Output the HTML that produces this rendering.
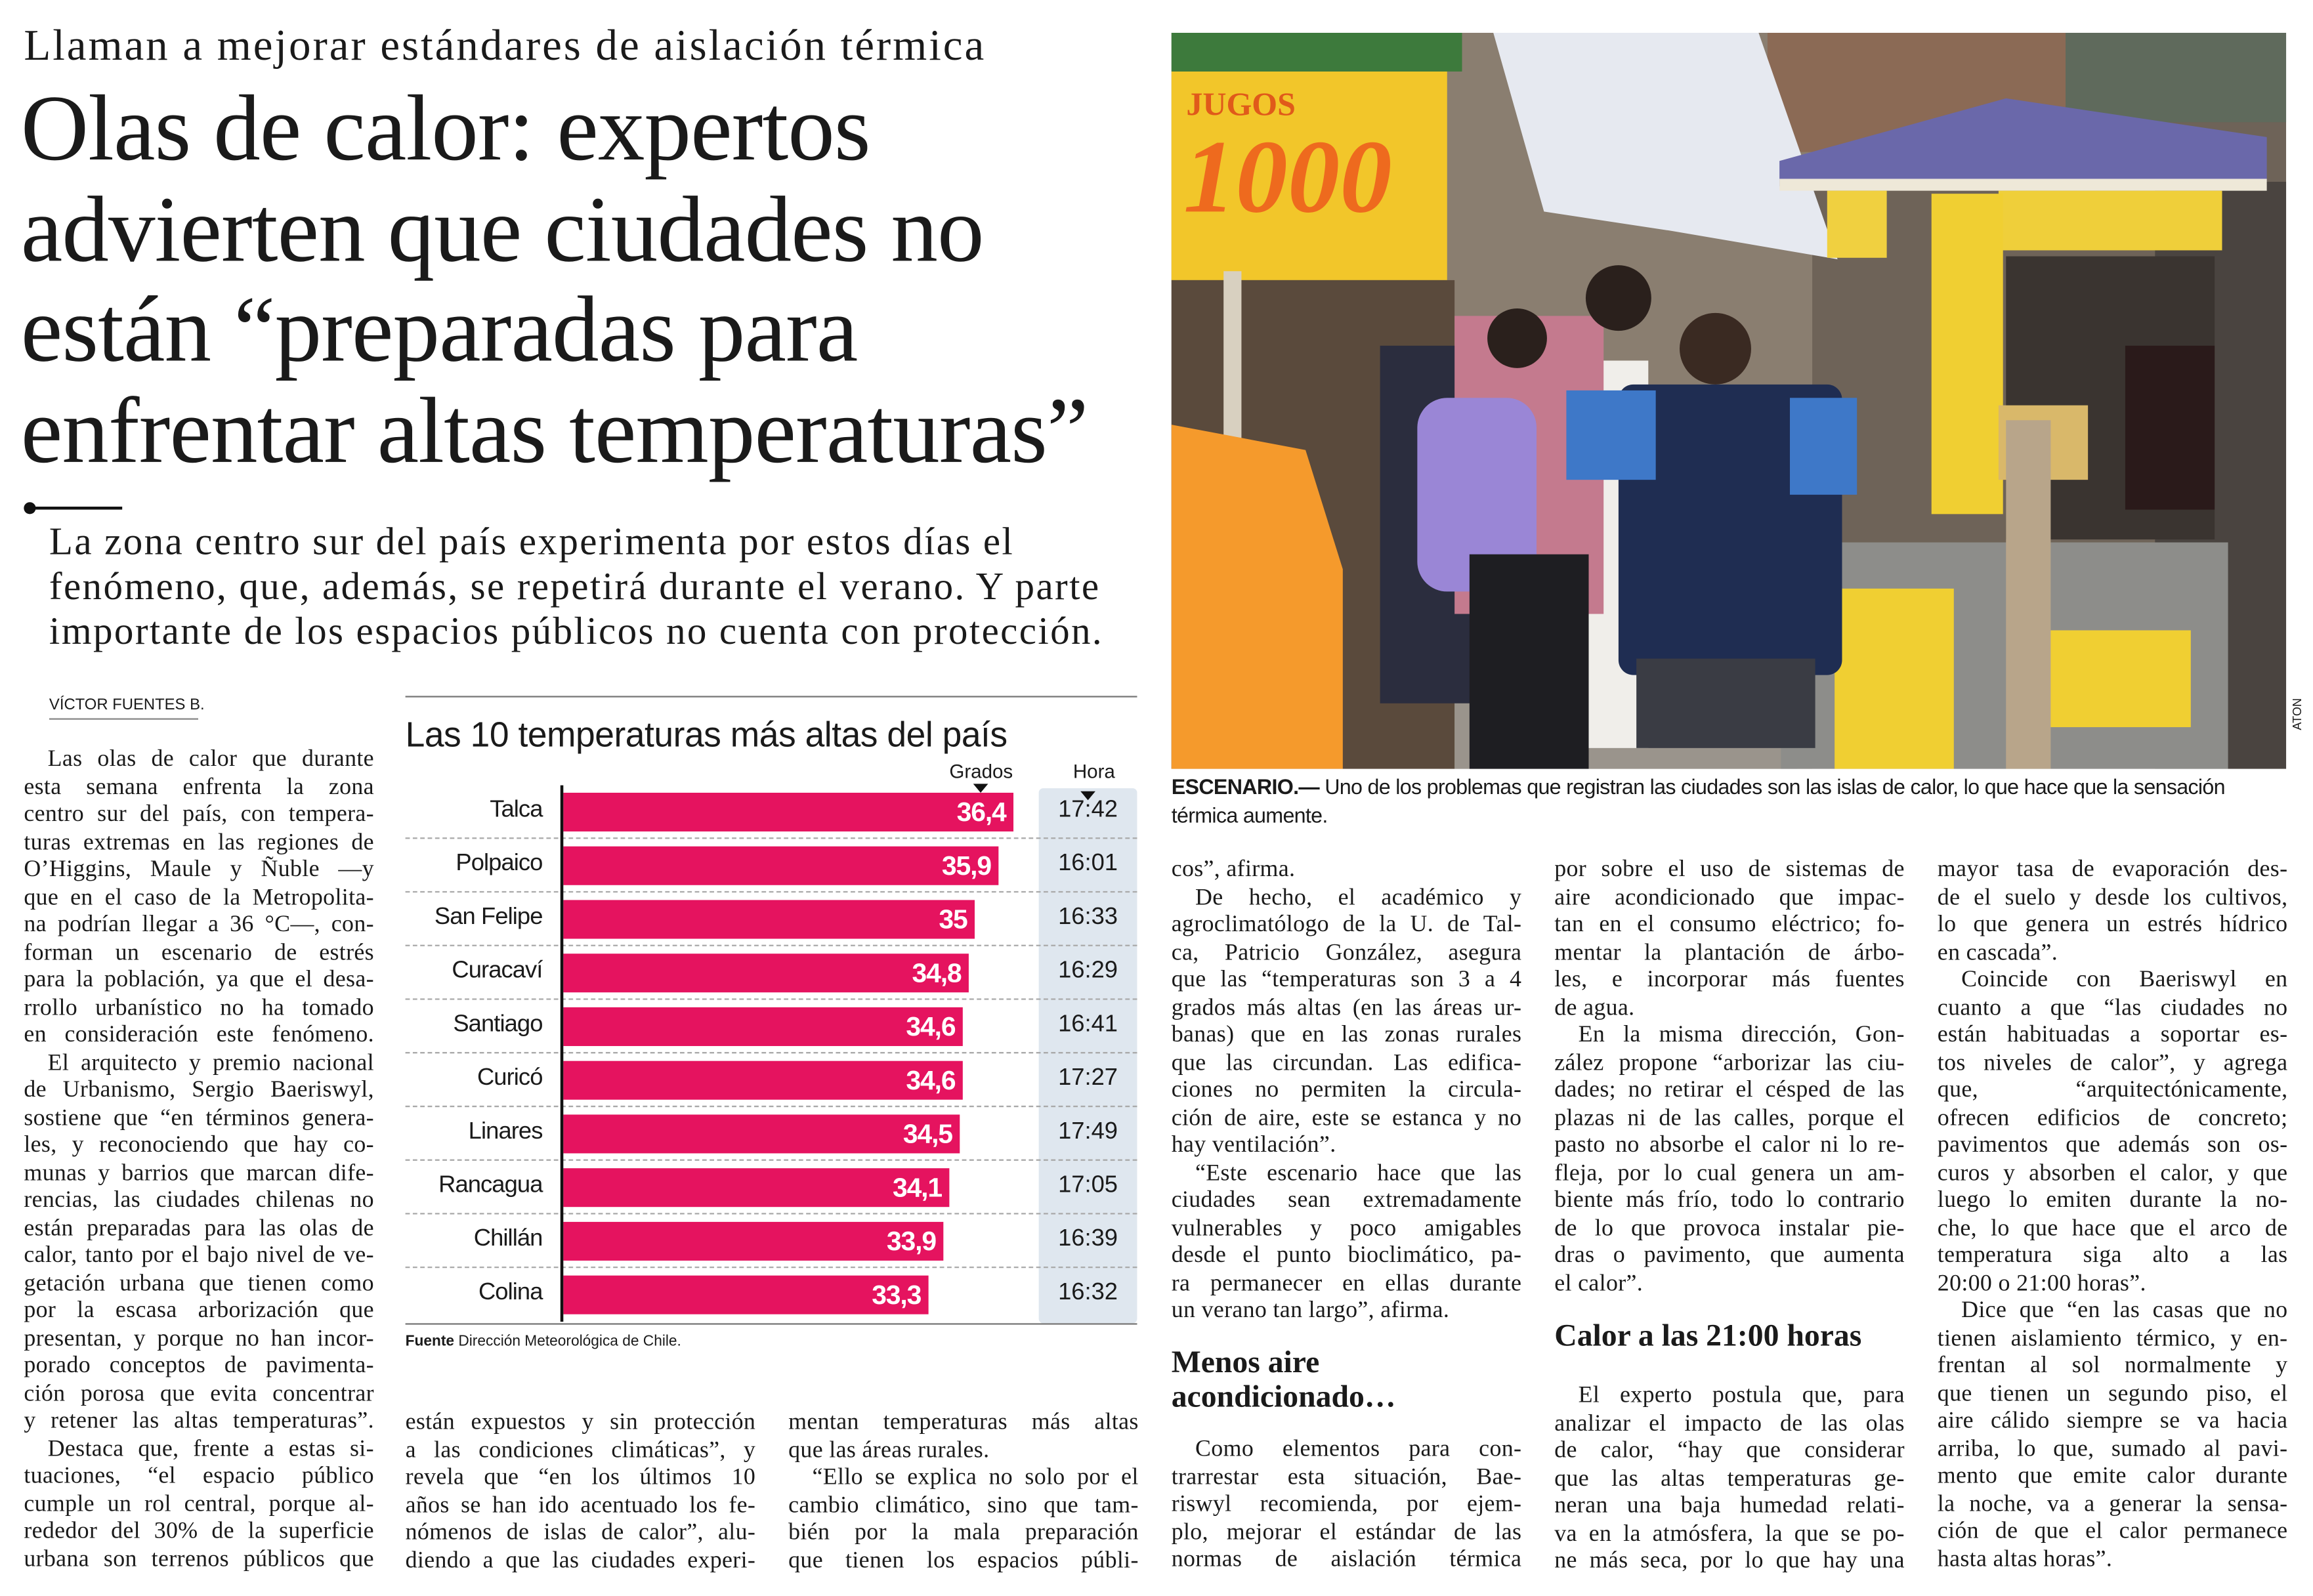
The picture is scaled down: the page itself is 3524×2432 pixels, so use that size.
<!DOCTYPE html>
<html><head><meta charset="utf-8">
<style>
html,body{margin:0;padding:0;background:#fff;}
body{width:3524px;height:2432px;overflow:hidden;position:relative;}
#p{position:absolute;left:0;top:0;width:1552px;height:1071px;transform:scale(2.27062);transform-origin:0 0;background:#fff;color:#1a1a1a;}
.a{position:absolute;}
.ser{font-family:"Liberation Serif",serif;}
.col{position:absolute;width:235px;font-family:"Liberation Serif",serif;font-size:15.8px;line-height:18.5px;letter-spacing:0.15px;}
.col div{height:18.5px;white-space:nowrap;text-align:justify;text-align-last:justify;}
.col div.e{text-align-last:left;}
.col div.i{padding-left:16px;}
.row{position:absolute;left:272px;width:491px;height:36px;font-family:"Liberation Sans",sans-serif;}
.row .n{position:absolute;left:0;width:92px;text-align:right;top:8px;font-size:16px;letter-spacing:-0.4px;}
.row .b{position:absolute;left:106px;top:5px;height:26px;background:#e5135f;color:#fff;font-weight:bold;font-size:18px;text-align:right;box-sizing:border-box;padding-right:5px;line-height:26px;letter-spacing:-0.5px;}
.row .t{position:absolute;left:425px;width:66px;text-align:center;top:8px;font-size:16px;}
.row .d{position:absolute;left:0;right:0;bottom:0;border-bottom:1px dashed #aaa;}
</style></head><body><div id="p">

<div class="a ser" style="left:16px;top:15px;font-size:29.5px;letter-spacing:1.3px;white-space:nowrap;">Llaman a mejorar estándares de aislación térmica</div>
<div class="a ser" style="left:14px;top:53px;font-size:63px;line-height:67.5px;letter-spacing:-0.4px;white-space:nowrap;">Olas de calor: expertos<br>advierten que ciudades no<br>están “preparadas para<br>enfrentar altas temperaturas”</div>
<div class="a" style="left:16px;top:337px;width:8px;height:8px;border-radius:50%;background:#111;"></div>
<div class="a" style="left:20px;top:340px;width:62px;height:2px;background:#111;"></div>
<div class="a ser" style="left:33px;top:349px;font-size:26px;line-height:30px;letter-spacing:1.05px;white-space:nowrap;">La zona centro sur del país experimenta por estos días el<br>fenómeno, que, además, se repetirá durante el verano. Y parte<br>importante de los espacios públicos no cuenta con protección.</div>

<div class="a" style="left:33px;top:467px;font-family:'Liberation Sans',sans-serif;font-size:10.5px;">VÍCTOR FUENTES B.</div>
<div class="a" style="left:33px;top:482px;width:100px;height:1px;background:#888;"></div>

<div class="col" style="left:16px;top:501px;">
<div class="i">Las olas de calor que durante</div>
<div>esta semana enfrenta la zona</div>
<div>centro sur del país, con tempera-</div>
<div>turas extremas en las regiones de</div>
<div>O’Higgins, Maule y Ñuble —y</div>
<div>que en el caso de la Metropolita-</div>
<div>na podrían llegar a 36 °C—, con-</div>
<div>forman un escenario de estrés</div>
<div>para la población, ya que el desa-</div>
<div>rrollo urbanístico no ha tomado</div>
<div>en consideración este fenómeno.</div>
<div class="i">El arquitecto y premio nacional</div>
<div>de Urbanismo, Sergio Baeriswyl,</div>
<div>sostiene que “en términos genera-</div>
<div>les, y reconociendo que hay co-</div>
<div>munas y barrios que marcan dife-</div>
<div>rencias, las ciudades chilenas no</div>
<div>están preparadas para las olas de</div>
<div>calor, tanto por el bajo nivel de ve-</div>
<div>getación urbana que tienen como</div>
<div>por la escasa arborización que</div>
<div>presentan, y porque no han incor-</div>
<div>porado conceptos de pavimenta-</div>
<div>ción porosa que evita concentrar</div>
<div>y retener las altas temperaturas”.</div>
<div class="i">Destaca que, frente a estas si-</div>
<div>tuaciones, “el espacio público</div>
<div>cumple un rol central, porque al-</div>
<div>rededor del 30% de la superficie</div>
<div>urbana son terrenos públicos que</div>
</div>

<!-- chart -->
<div class="a" style="left:272px;top:467px;width:491px;height:1px;background:#777;"></div>
<div class="a" style="left:272px;top:480px;font-family:'Liberation Sans',sans-serif;font-size:23.5px;letter-spacing:-0.2px;white-space:nowrap;">Las 10 temperaturas más altas del país</div>
<div class="a" style="left:637px;top:510px;font-family:'Liberation Sans',sans-serif;font-size:13px;">Grados</div>
<div class="a" style="left:720px;top:510px;font-family:'Liberation Sans',sans-serif;font-size:13px;">Hora</div>
<div class="a" style="left:697px;top:529px;width:66px;height:359px;background:#dfe7ef;border-radius:3px;"></div>
<div class="a" style="left:653px;top:526px;width:0;height:0;border-left:5px solid transparent;border-right:5px solid transparent;border-top:6px solid #111;"></div>
<div class="a" style="left:725px;top:531px;width:0;height:0;border-left:5px solid transparent;border-right:5px solid transparent;border-top:6px solid #111;"></div>

<div class="row" style="top:527px;"><div class="n">Talca</div><div class="b" style="width:302px;">36,4</div><div class="t">17:42</div><div class="d"></div></div>
<div class="row" style="top:563px;"><div class="n">Polpaico</div><div class="b" style="width:292px;">35,9</div><div class="t">16:01</div><div class="d"></div></div>
<div class="row" style="top:599px;"><div class="n">San Felipe</div><div class="b" style="width:276px;">35</div><div class="t">16:33</div><div class="d"></div></div>
<div class="row" style="top:635px;"><div class="n">Curacaví</div><div class="b" style="width:272px;">34,8</div><div class="t">16:29</div><div class="d"></div></div>
<div class="row" style="top:671px;"><div class="n">Santiago</div><div class="b" style="width:268px;">34,6</div><div class="t">16:41</div><div class="d"></div></div>
<div class="row" style="top:707px;"><div class="n">Curicó</div><div class="b" style="width:268px;">34,6</div><div class="t">17:27</div><div class="d"></div></div>
<div class="row" style="top:743px;"><div class="n">Linares</div><div class="b" style="width:266px;">34,5</div><div class="t">17:49</div><div class="d"></div></div>
<div class="row" style="top:779px;"><div class="n">Rancagua</div><div class="b" style="width:259px;">34,1</div><div class="t">17:05</div><div class="d"></div></div>
<div class="row" style="top:815px;"><div class="n">Chillán</div><div class="b" style="width:255px;">33,9</div><div class="t">16:39</div><div class="d"></div></div>
<div class="row" style="top:851px;"><div class="n">Colina</div><div class="b" style="width:245px;">33,3</div><div class="t">16:32</div></div>
<div class="a" style="left:376px;top:527px;width:2px;height:360px;background:#111;"></div>
<div class="a" style="left:272px;top:888px;width:491px;height:1px;background:#777;"></div>
<div class="a" style="left:272px;top:895px;font-family:'Liberation Sans',sans-serif;font-size:10px;"><b>Fuente</b> Dirección Meteorológica de Chile.</div>

<div class="col" style="left:272px;top:946px;">
<div>están expuestos y sin protección</div>
<div>a las condiciones climáticas”, y</div>
<div>revela que “en los últimos 10</div>
<div>años se han ido acentuado los fe-</div>
<div>nómenos de islas de calor”, alu-</div>
<div>diendo a que las ciudades experi-</div>
</div>
<div class="col" style="left:529px;top:946px;">
<div>mentan temperaturas más altas</div>
<div class="e">que las áreas rurales.</div>
<div class="i">“Ello se explica no solo por el</div>
<div>cambio climático, sino que tam-</div>
<div>bién por la mala preparación</div>
<div>que tienen los espacios públi-</div>
</div>

<!-- photo -->
<svg class="a" style="left:786px;top:22px;" width="748" height="494" viewBox="0 0 748 494">
<rect width="748" height="494" fill="#6e6358"/>
<rect x="180" y="0" width="250" height="494" fill="#8a7e70"/>
<rect x="400" y="0" width="200" height="80" fill="#8b6a55"/>
<rect x="600" y="0" width="148" height="60" fill="#5f6a5c"/>
<rect x="660" y="100" width="88" height="394" fill="#4a4440"/>
<rect x="0" y="0" width="195" height="26" fill="#3d7a3c"/>
<rect x="0" y="26" width="185" height="140" fill="#f2c62a"/>
<text x="8" y="120" font-family="Liberation Serif,serif" font-size="70" font-weight="bold" fill="#ee6a1e" font-style="italic">1000</text>
<text x="10" y="55" font-family="Liberation Serif,serif" font-size="22" font-weight="bold" fill="#e05a1a">JUGOS</text>
<rect x="0" y="166" width="190" height="328" fill="#5a4a3c"/>
<rect x="35" y="160" width="12" height="280" fill="#d8d0c0"/>
<rect x="190" y="300" width="230" height="194" fill="#9a948c"/>
<polygon points="216,0 394,0 447,152 336,133 250,120" fill="#e6e9f0"/>
<polygon points="408,86 560,44 735,70 735,100 408,103" fill="#6a68aa"/>
<rect x="408" y="98" width="327" height="8" fill="#eee8d8"/>
<rect x="440" y="106" width="40" height="45" fill="#f0d040"/>
<rect x="555" y="106" width="150" height="40" fill="#efcf3a"/>
<rect x="510" y="108" width="48" height="215" fill="#f0cf32"/>
<rect x="560" y="150" width="140" height="190" fill="#3a3430"/>
<rect x="555" y="250" width="60" height="50" fill="#d9b86a"/>
<rect x="409" y="342" width="300" height="152" fill="#8d8d8a"/>
<rect x="445" y="373" width="80" height="121" fill="#f0cf32"/>
<rect x="588" y="401" width="96" height="65" fill="#f0cf32"/>
<rect x="560" y="260" width="30" height="234" fill="#b8a58a"/>
<rect x="140" y="210" width="70" height="240" fill="#2b2d3e"/>
<rect x="250" y="220" width="70" height="260" fill="#f0eeea"/>
<rect x="190" y="190" width="100" height="200" fill="#c47a8e"/>
<rect x="165" y="245" width="80" height="130" rx="20" fill="#9a86d6"/>
<rect x="200" y="350" width="80" height="144" fill="#1e1e22"/>
<circle cx="232" cy="205" r="20" fill="#2a201c"/>
<circle cx="300" cy="178" r="22" fill="#2a201c"/>
<rect x="300" y="236" width="150" height="195" rx="10" fill="#1f2d52"/>
<rect x="265" y="240" width="60" height="60" fill="#3e78c8"/>
<rect x="415" y="245" width="45" height="65" fill="#3e78c8"/>
<circle cx="365" cy="212" r="24" fill="#3a2a22"/>
<rect x="312" y="420" width="120" height="60" fill="#3a3c44"/>
<rect x="640" y="210" width="60" height="110" fill="#2a1a1a"/>
<polygon points="0,263 90,280 115,360 115,494 0,494" fill="#f59a2c"/>
</svg>
<div class="a" style="left:1537px;top:490px;font-family:'Liberation Sans',sans-serif;font-size:8px;transform:rotate(-90deg);transform-origin:0 0;">ATON</div>
<div class="a" style="left:786px;top:520px;width:750px;font-family:'Liberation Sans',sans-serif;font-size:14.2px;line-height:19px;letter-spacing:-0.3px;"><b>ESCENARIO.—</b> Uno de los problemas que registran las ciudades son las islas de calor, lo que hace que la sensación térmica aumente.</div>

<div class="col" style="left:786px;top:575px;">
<div class="e">cos”, afirma.</div>
<div class="i">De hecho, el académico y</div>
<div>agroclimatólogo de la U. de Tal-</div>
<div>ca, Patricio González, asegura</div>
<div>que las “temperaturas son 3 a 4</div>
<div>grados más altas (en las áreas ur-</div>
<div>banas) que en las zonas rurales</div>
<div>que las circundan. Las edifica-</div>
<div>ciones no permiten la circula-</div>
<div>ción de aire, este se estanca y no</div>
<div class="e">hay ventilación”.</div>
<div class="i">“Este escenario hace que las</div>
<div>ciudades sean extremadamente</div>
<div>vulnerables y poco amigables</div>
<div>desde el punto bioclimático, pa-</div>
<div>ra permanecer en ellas durante</div>
<div class="e">un verano tan largo”, afirma.</div>
</div>
<div class="a ser" style="left:786px;top:903px;font-size:21px;font-weight:bold;line-height:23px;">Menos aire<br>acondicionado…</div>
<div class="col" style="left:786px;top:964px;">
<div class="i">Como elementos para con-</div>
<div>trarrestar esta situación, Bae-</div>
<div>riswyl recomienda, por ejem-</div>
<div>plo, mejorar el estándar de las</div>
<div>normas de aislación térmica</div>
</div>

<div class="col" style="left:1043px;top:575px;">
<div>por sobre el uso de sistemas de</div>
<div>aire acondicionado que impac-</div>
<div>tan en el consumo eléctrico; fo-</div>
<div>mentar la plantación de árbo-</div>
<div>les, e incorporar más fuentes</div>
<div class="e">de agua.</div>
<div class="i">En la misma dirección, Gon-</div>
<div>zález propone “arborizar las ciu-</div>
<div>dades; no retirar el césped de las</div>
<div>plazas ni de las calles, porque el</div>
<div>pasto no absorbe el calor ni lo re-</div>
<div>fleja, por lo cual genera un am-</div>
<div>biente más frío, todo lo contrario</div>
<div>de lo que provoca instalar pie-</div>
<div>dras o pavimento, que aumenta</div>
<div class="e">el calor”.</div>
</div>
<div class="a ser" style="left:1043px;top:884px;font-size:21px;font-weight:bold;">Calor a las 21:00 horas</div>
<div class="col" style="left:1043px;top:928px;">
<div class="i">El experto postula que, para</div>
<div>analizar el impacto de las olas</div>
<div>de calor, “hay que considerar</div>
<div>que las altas temperaturas ge-</div>
<div>neran una baja humedad relati-</div>
<div>va en la atmósfera, la que se po-</div>
<div>ne más seca, por lo que hay una</div>
</div>

<div class="col" style="left:1300px;top:575px;">
<div>mayor tasa de evaporación des-</div>
<div>de el suelo y desde los cultivos,</div>
<div>lo que genera un estrés hídrico</div>
<div class="e">en cascada”.</div>
<div class="i">Coincide con Baeriswyl en</div>
<div>cuanto a que “las ciudades no</div>
<div>están habituadas a soportar es-</div>
<div>tos niveles de calor”, y agrega</div>
<div>que, “arquitectónicamente,</div>
<div>ofrecen edificios de concreto;</div>
<div>pavimentos que además son os-</div>
<div>curos y absorben el calor, y que</div>
<div>luego lo emiten durante la no-</div>
<div>che, lo que hace que el arco de</div>
<div>temperatura siga alto a las</div>
<div class="e">20:00 o 21:00 horas”.</div>
<div class="i">Dice que “en las casas que no</div>
<div>tienen aislamiento térmico, y en-</div>
<div>frentan al sol normalmente y</div>
<div>que tienen un segundo piso, el</div>
<div>aire cálido siempre se va hacia</div>
<div>arriba, lo que, sumado al pavi-</div>
<div>mento que emite calor durante</div>
<div>la noche, va a generar la sensa-</div>
<div>ción de que el calor permanece</div>
<div class="e">hasta altas horas”.</div>
</div>

</div></body></html>
